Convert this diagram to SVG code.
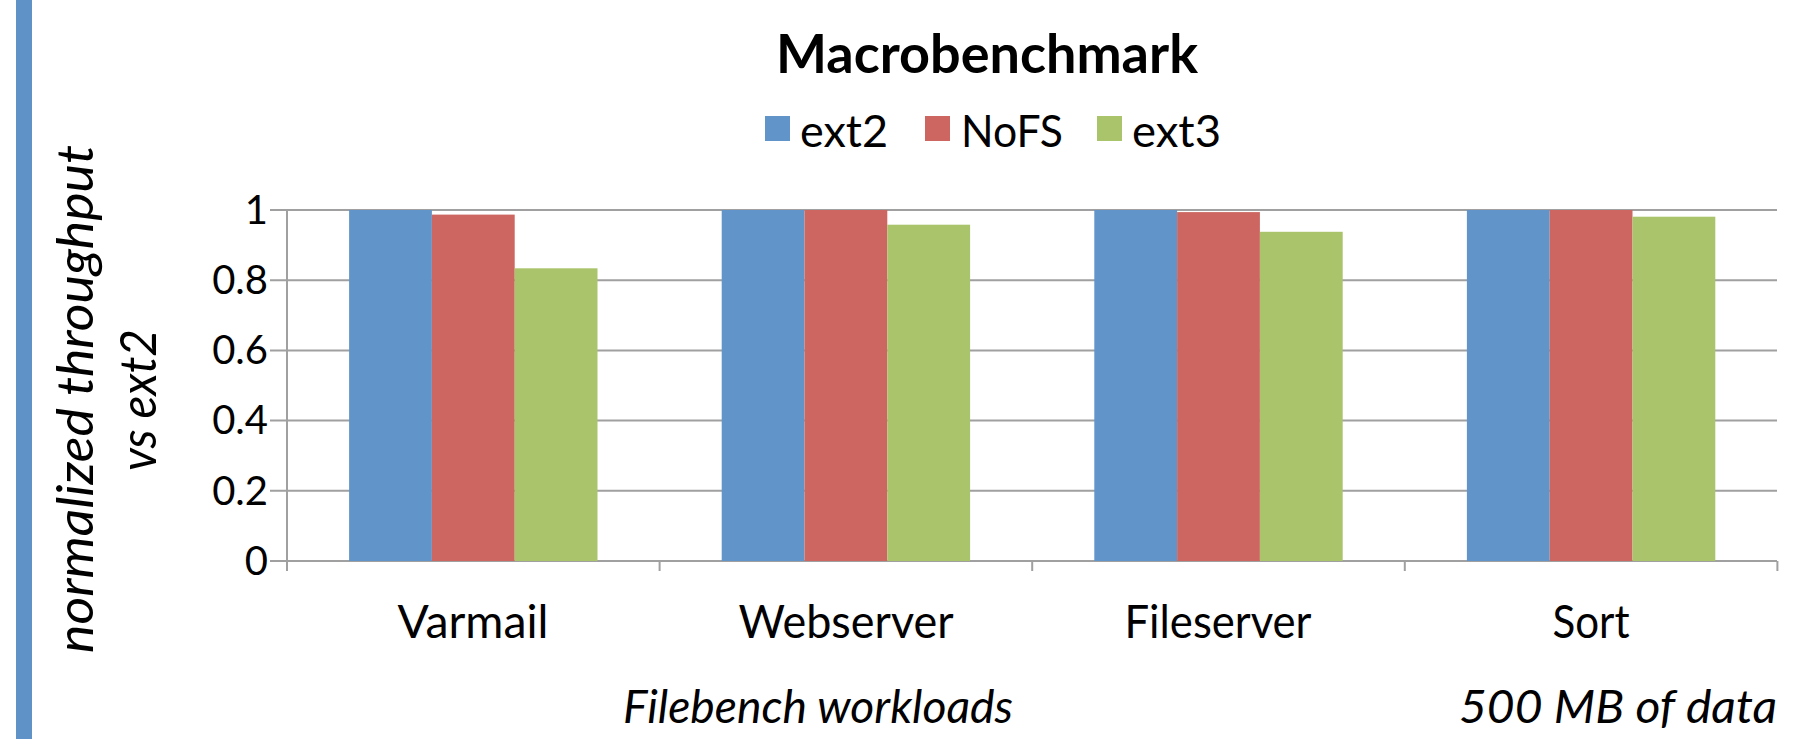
<svg xmlns="http://www.w3.org/2000/svg" width="1820" height="739" viewBox="0 0 1820 739">
<style>
.t{font-family:Lato,"Liberation Sans",sans-serif;fill:#000}
.grid{stroke:#a0a0a0;stroke-width:2;fill:none}
.b{fill:#6195c9}.r{fill:#cd6660}.g{fill:#aac46c}
</style>
<rect width="1820" height="739" fill="#fff"/>
<rect x="16" y="0" width="16" height="739" fill="#5f93c8"/>
<text class="t" x="987" y="73" font-size="53" font-weight="bold" text-anchor="middle" textLength="422" lengthAdjust="spacingAndGlyphs">Macrobenchmark</text>
<g id="legend">
<rect class="b" x="765" y="116" width="25" height="25"/>
<text class="t" x="800" y="147" font-size="45" textLength="88" lengthAdjust="spacingAndGlyphs">ext2</text>
<rect class="r" x="925" y="116" width="25" height="25"/>
<text class="t" x="961" y="147" font-size="45" textLength="102" lengthAdjust="spacingAndGlyphs">NoFS</text>
<rect class="g" x="1097" y="116" width="25" height="25"/>
<text class="t" x="1132" y="147" font-size="45" textLength="89" lengthAdjust="spacingAndGlyphs">ext3</text>
</g>
<g id="axes">
<path class="grid" d="M270 210H1777M270 280.2H1777M270 350.4H1777M270 420.6H1777M270 490.8H1777M270 561H1777M287 210V571M659.6 561V571M1032.2 561V571M1404.8 561V571M1777.4 561V571"/>
<g class="t" font-size="40" text-anchor="end">
<text x="268" y="224">1</text>
<text x="268" y="294">0.8</text>
<text x="268" y="364">0.6</text>
<text x="268" y="434">0.4</text>
<text x="268" y="505">0.2</text>
<text x="268" y="575">0</text>
</g>
</g>
<g id="varmail">
<rect class="b" x="349.1" y="210" width="82.8" height="351"/>
<rect class="r" x="431.9" y="214.6" width="82.8" height="346.4"/>
<rect class="g" x="514.7" y="268.3" width="82.8" height="292.7"/>
<text class="t" x="473" y="638" font-size="46" text-anchor="middle" textLength="151" lengthAdjust="spacingAndGlyphs">Varmail</text>
</g>
<g id="webserver">
<rect class="b" x="721.7" y="210" width="82.8" height="351"/>
<rect class="r" x="804.5" y="210" width="82.8" height="351"/>
<rect class="g" x="887.3" y="224.7" width="82.8" height="336.3"/>
<text class="t" x="846" y="638" font-size="46" text-anchor="middle" textLength="215" lengthAdjust="spacingAndGlyphs">Webserver</text>
</g>
<g id="fileserver">
<rect class="b" x="1094.3" y="210" width="82.8" height="351"/>
<rect class="r" x="1177.1" y="212.1" width="82.8" height="348.9"/>
<rect class="g" x="1259.9" y="231.8" width="82.8" height="329.2"/>
<text class="t" x="1218" y="638" font-size="46" text-anchor="middle" textLength="187" lengthAdjust="spacingAndGlyphs">Fileserver</text>
</g>
<g id="sort">
<rect class="b" x="1466.9" y="210" width="82.8" height="351"/>
<rect class="r" x="1549.7" y="210" width="82.8" height="351"/>
<rect class="g" x="1632.5" y="216.7" width="82.8" height="344.3"/>
<text class="t" x="1591" y="638" font-size="46" text-anchor="middle" textLength="77" lengthAdjust="spacingAndGlyphs">Sort</text>
</g>
<g class="t" font-style="italic">
<text x="818" y="723" font-size="46" text-anchor="middle" textLength="390" lengthAdjust="spacingAndGlyphs">Filebench workloads</text>
<text x="1618" y="723" font-size="46" text-anchor="middle" textLength="318" lengthAdjust="spacingAndGlyphs">500 MB of data</text>
<text transform="translate(93 399) rotate(-90)" font-size="51" text-anchor="middle" textLength="508" lengthAdjust="spacingAndGlyphs">normalized throughput</text>
<text transform="translate(156 400) rotate(-90)" font-size="51" text-anchor="middle" textLength="142" lengthAdjust="spacingAndGlyphs">vs ext2</text>
</g>
</svg>
